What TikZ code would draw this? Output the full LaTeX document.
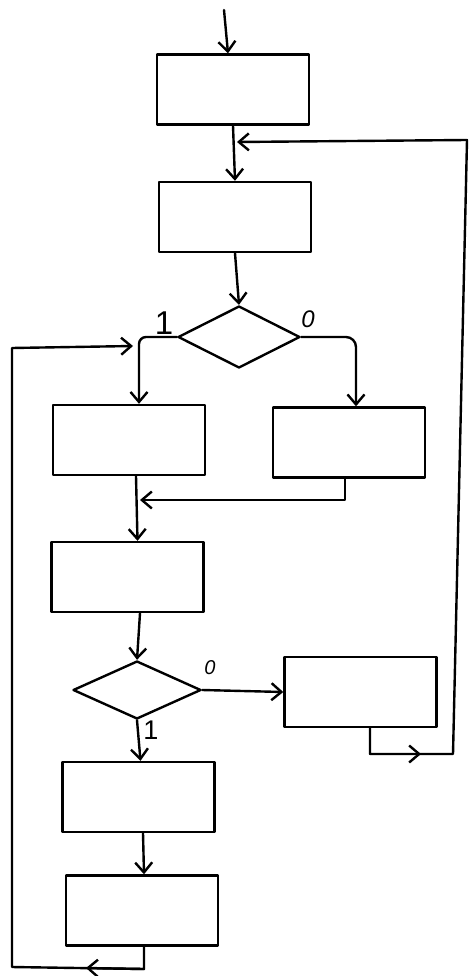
\documentclass[tikz,border=0pt]{standalone}
\usepackage{fontspec}
\newfontfamily\lblfont{Liberation Sans}
\usetikzlibrary{arrows.meta,shapes.geometric,calc}
\begin{document}
\begin{tikzpicture}[x=1pt,y=-1pt,
  line width=2.4pt, line join=round, line cap=round,
  box/.style={draw, rectangle, minimum width=152pt, minimum height=70pt, inner sep=0pt},
  dia/.style={draw, diamond, inner sep=0pt},
  arr/.style={-{Straight Barb[length=10pt,width=17pt]}},
  lbl/.style={font=\lblfont\fontsize{33}{35}\selectfont, inner sep=0pt}]
\useasboundingbox (0,0) rectangle (469,976);
% nodes
\node[box] (b1) at (233,89.5) {};
\node[box] (b2) at (235,217) {};
\node[dia, minimum width=122pt, minimum height=62pt] (d1) at (239,337) {};
\node[box] (b3) at (129,440) {};
\node[box] (b4) at (349,442.5) {};
\node[box] (b5) at (127.5,577) {};
\node[dia, minimum width=128pt, minimum height=58pt] (d2) at (137,690) {};
\node[box] (b6) at (360.5,692) {};
\node[box] (b7) at (138.5,797) {};
\node[box] (b8) at (142,910.5) {};
% labels
\node[lbl] (t1) at (164,323) {1};
\node[lbl, font=\lblfont\itshape\fontsize{24}{26}\selectfont] (t0) at (308,319) {0};
\node[lbl, font=\lblfont\itshape\fontsize{20}{22}\selectfont] (t2) at (210,668) {0};
\node[lbl, font=\lblfont\fontsize{27}{29}\selectfont] (t3) at (151,730) {1};
% coordinates
\coordinate (in) at (224,10);
\coordinate (j1) at (237,142);
\coordinate (r1) at (467,140);
\coordinate (r2) at (453,754);
\coordinate (c6) at (370,754);
\coordinate (a6) at (421,754);
\coordinate (l1) at (12,348);
\coordinate (l2) at (12,967);
\coordinate (c8) at (144,969);
\coordinate (a8) at (86,968);
\coordinate (j2) at (133,346);
\coordinate (j3) at (140,500);
% connectors
\draw[arr] (in) -- ([xshift=-5pt]b1.north);
\draw[arr] (b1.south) -- (b2.north);
\draw[arr] (b2.south) -- (d1.north);
\draw[arr, rounded corners=7pt] (d1.west) -| ([xshift=10pt]b3.north);
\draw[arr, rounded corners=10pt] (d1.east) -| ([xshift=7pt]b4.north);
\draw[arr] ([xshift=7pt]b3.south) -- ([xshift=10pt]b5.north);
\draw[arr] ([xshift=-4pt]b4.south) |- (j3);
\draw[arr] ([xshift=12.5pt]b5.south) -- (d2.north);
\draw[arr] (d2.east) -- (b6.west);
\draw[arr] (d2.south) -- ([xshift=2pt]b7.north);
\draw[arr] ([xshift=4.5pt]b7.south) -- ([xshift=2pt]b8.north);
\draw[arr] ([xshift=9.5pt]b6.south) |- (r2) -- (r1) -- (j1);
\draw[arr] (c6) -- (a6);
\draw[arr] ([xshift=2pt]b8.south) -- (c8) -- (l2) -- (l1) -- (j2);
\draw[arr] (c8) -- (a8);
\end{tikzpicture}
\end{document}
